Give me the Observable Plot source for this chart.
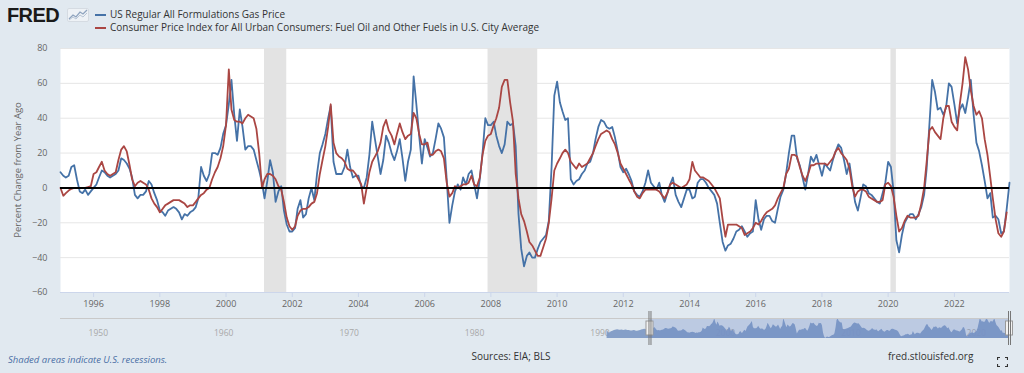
<!DOCTYPE html>
<html><head><meta charset="utf-8">
<script src="https://cdn.jsdelivr.net/npm/d3@7"></script>
<script src="https://cdn.jsdelivr.net/npm/@observablehq/plot@0.6"></script>
<style>
html,body{margin:0;padding:0;background:#e1e9f0;width:1024px;height:373px;overflow:hidden;font-family:"Open Sans",sans-serif;}
#wrap{position:relative;width:1024px;height:373px;}
.abs{position:absolute;white-space:nowrap;}
#logo{left:7px;top:5px;font-family:"Liberation Sans",Arial,sans-serif;font-weight:700;font-size:20px;line-height:20px;color:#1a1a1a;letter-spacing:-0.6px;}
#legend{left:95px;top:8px;font-size:10px;color:#333;line-height:13px;}
#legend .row{display:flex;align-items:center;height:13px;}
#legend .sw{display:inline-block;width:11px;height:2px;margin-right:4px;}
#ylabel{left:-82px;top:163px;width:200px;text-align:center;font-size:9.5px;line-height:14px;color:#666;transform:rotate(-90deg);transform-origin:100px 7px;}
#main{left:0;top:40px;}
#nav{left:0;top:316px;}
#shaded{left:8px;top:353px;font-size:9.5px;line-height:14px;font-style:italic;color:#4a6fa5;}
#sources{left:0;width:1022px;text-align:center;top:349px;font-size:10px;line-height:14px;color:#333;}
#site{left:888px;top:349px;font-size:10px;line-height:14px;color:#333;}
#fs{left:997px;top:357px;}
</style></head><body><div id="wrap">
<div id="logo" class="abs">FRED</div>
<svg class="abs" style="left:67px;top:8px" width="22" height="14" viewBox="0 0 22 14">
  <rect x="0.5" y="0.5" width="21" height="13" rx="1.5" fill="#eef2f6" stroke="#d5dbe2"/>
  <path d="M2 11 L6 7 L9 9 L13 4 L16 6 L20 2" fill="none" stroke="#8fa4bf" stroke-width="1.3"/>
  <path d="M2 12 L6 9 L9 11 L13 7 L16 9 L20 5" fill="none" stroke="#b9c6d6" stroke-width="1"/>
</svg>
<div id="legend" class="abs">
  <div class="row"><span class="sw" style="background:#4572A7"></span><span id="lg1"></span></div>
  <div class="row"><span class="sw" style="background:#AA4643"></span><span id="lg2"></span></div>
</div>
<div id="ylabel" class="abs"></div>
<div id="main" class="abs"></div>
<div id="nav" class="abs"></div>
<div id="shaded" class="abs"></div>
<div id="sources" class="abs"></div>
<div id="site" class="abs"></div>
<svg id="fs" class="abs" width="11" height="10" viewBox="0 0 11 10">
  <path d="M0.5 3 V0.5 H3 M8 0.5 H10.5 V3 M10.5 7 V9.5 H8 M3 9.5 H0.5 V7" fill="none" stroke="#333" stroke-width="1.2"/>
</svg>
</div>
<script>
// ---------- text ----------
const seriesNames = ["US Regular All Formulations Gas Price",
  "Consumer Price Index for All Urban Consumers: Fuel Oil and Other Fuels in U.S. City Average"];
const yAxisTitle = "Percent Change from Year Ago";
const noteText = "Shaded areas indicate U.S. recessions.";
const sourceText = "Sources: EIA; BLS";
const siteText = "fred.stlouisfed.org";

// ---------- data (monthly, percent change from year ago) ----------
const firstMonth = "1995-01-01";
const gasYoY = [
  9, 7, 6, 7, 12, 13, 5, -2, -3, -1, -4, -2,            // 1995
  0, 2, 6, 10, 9, 7, 6, 7, 8, 10, 17, 16,               // 1996
  14, 11, 6, -4, -6, -4, -4, -2, 4, 2, -3, -7,          // 1997
  -13, -14, -16, -13, -12, -11, -12, -14, -18, -15, -16, -14, // 1998
  -13, -11, -6, 12, 7, 4, 8, 20, 20, 19, 23, 31,        // 1999
  36, 48, 62, 42, 27, 45, 35, 22, 24, 24, 22, 16,       // 2000
  10, 3, -6, 4, 16, 9, -8, -2, 1, -13, -21, -25,        // 2001
  -25, -23, -12, -7, -17, -15, -6, 0, -7, 8, 20, 25,    // 2002
  31, 40, 47, 15, 8, 8, 8, 12, 22, 12, 6, 7,            // 2003
  7, 1, 0, 6, 19, 38, 28, 18, 8, 16, 30, 26,            // 2004
  20, 16, 21, 28, 17, 4, 15, 22, 64, 48, 30, 14,        // 2005
  28, 23, 18, 20, 28, 37, 34, 29, 5, -20, -10, -2,      // 2006
  2, -1, 6, 2, 8, 10, 2, -6, 5, 20, 40, 36,             // 2007
  36, 38, 30, 24, 20, 25, 38, 36, 37, 24, -15, -35,     // 2008
  -45, -39, -37, -40, -40, -35, -31, -29, -27, -19, 12, 53, // 2009
  61, 49, 44, 39, 40, 5, 2, 4, 5, 8, 10, 14,            // 2010
  15, 20, 28, 35, 39, 38, 35, 34, 35, 29, 21, 12,       // 2011
  9, 11, 8, 4, -2, -4, -5, -2, 3, 10, 3, 1,             // 2012
  -1, 3, -4, -8, -3, 2, 6, -4, -8, -11, -6, -1,         // 2013
  -1, -6, -5, 3, 5, 5, 3, 0, -2, -4, -9, -20,           // 2014
  -31, -36, -33, -32, -29, -25, -24, -22, -25, -28, -26, -25, // 2015
  -7, -18, -24, -18, -16, -16, -19, -20, -12, -5, -1, 8, // 2016
  20, 30, 30, 17, 13, 6, -1, 8, 18, 15, 19, 13,         // 2017
  7, 14, 12, 10, 16, 21, 25, 23, 16, 8, 14, 3,          // 2018
  -8, -13, -6, 2, 1, -3, -4, -6, -8, -9, -3, 3,         // 2019
  15, 12, -2, -30, -37, -27, -20, -17, -15, -15, -18, -15, // 2020
  -11, -4, 11, 37, 62, 55, 45, 46, 42, 46, 60, 58,      // 2021
  48, 37, 45, 48, 43, 52, 62, 42, 26, 21, 13, 4,        // 2022
  -6, -3, -17, -16, -18, -26, -25, -12, 3               // 2023
];
const fuelOilYoY = [
  0, -4.5, -3, -1.5, -0.5, 0, 0, 0, 0, 0, 0.5, 1,       // 1995
  8, 9, 12, 15, 10, 8, 7, 8, 9, 16, 22, 24,             // 1996
  21, 13, 5, 1, 3, 4, 3, 2, -1, -6, -9, -11,            // 1997
  -14, -12, -10, -9, -8, -7, -7, -7, -8, -9, -11, -10,  // 1998
  -10, -8, -6, -4, -3, -1, 0, 5, 9, 12, 17, 24,         // 1999
  36, 68, 45, 39, 38, 38, 37, 40, 42, 41, 40, 34,       // 2000
  20, 0, 5, 8, 8, 7, 5, 1, -1, -8, -17, -22,            // 2001
  -24, -22, -16, -13, -12, -12, -11, -9, -8, -3, 8, 16, // 2002
  24, 35, 48, 26, 20, 18, 17, 15, 11, 10, 10, 8,        // 2003
  5, 2, -9, 0, 9, 15, 18, 21, 26, 35, 39, 33,           // 2004
  30, 25, 31, 37, 32, 28, 30, 31, 43, 40, 31, 25,       // 2005
  25, 26, 19, 19, 21, 22, 21, 17, 3, -5, -3, 1,         // 2006
  0, 1, 2, 2, 3, 7, 2, 1, 6, 19, 27, 30,                // 2007
  31, 36, 40, 46, 58, 62, 62, 49, 38, 8, -6, -15,       // 2008
  -19, -25, -31, -33, -36, -39, -39, -34, -29, -20, -6, 10, // 2009
  14, 17, 20, 22, 20, 15, 13, 11, 14, 12, 13, 14,       // 2010
  17, 20, 24, 28, 31, 32, 33, 32, 28, 25, 20, 14,       // 2011
  11, 8, 5, 2, -2, -5, -6, -3, -1, -1, -1, -1,          // 2012
  -1, -2, -4, -6, -3, 2, 3, 2, 1, 0, 1, 2,              // 2013
  5, 15, 10, 8, 6, 6, 5, 4, 2, 0, -3, -6,               // 2014
  -18, -28, -21, -21, -21, -21, -22, -23, -27, -26, -25, -23, // 2015
  -20, -21, -19, -16, -14, -13, -12, -10, -6, -3, 0, 8, // 2016
  11, 19, 19, 18, 12, 7, 4, 8, 13, 13, 14, 14,          // 2017
  14, 14, 13, 15, 17, 21, 23, 20, 18, 16, 11, 1,        // 2018
  -5, -2, -1, -1, -2, -5, -6, -7, -8, -8, -7, 2,        // 2019
  3, 1, -5, -16, -25, -23, -19, -16, -17, -17, -17, -16, // 2020
  -9, 0, 15, 33, 35, 32, 30, 28, 40, 47, 47, 38,        // 2021
  35, 33, 48, 60, 75, 68, 56, 47, 42, 44, 40, 28,       // 2022
  19, 6, -6, -18, -26, -28, -25, -14                    // 2023
];
// navigator: gas price history before the visible window
const navEarlyFirstMonth = "1991-08-01";
const navGasEarly = [
  2, -10, -15, -14, -8,                                 // 1991
  -7, -4, -2, 0, 1, 3, 1, 0, 0, 1, 0, -1,               // 1992
  0, 1, 0, -1, -2, -3, -4, -4, -3, -2, -3, -6,          // 1993
  -6, -4, -3, -1, 1, 3, 4, 6, 4, 1, 3, 6                // 1994
];
const recessionStarts = ["2001-03-01", "2007-12-01", "2020-02-01"];
const recessionEnds   = ["2001-11-01", "2009-06-01", "2020-04-01"];
const yTickValues = [-60, -40, -20, 0, 20, 40, 60, 80];
const xTickYears = [1996, 1998, 2000, 2002, 2004, 2006, 2008, 2010, 2012, 2014, 2016, 2018, 2020, 2022];
const navTickYears = [1950, 1960, 1970, 1980, 1990, 2000, 2010, 2020];
const viewEnd = "2023-09-01";
const navStart = "1948-01-01";

// ---------- build ----------
const BLUE = "#4572A7", RED = "#AA4643";
const start = new Date(firstMonth);
const monthAt = (s, i) => d3.utcMonth.offset(new Date(s), i);
const gasRows = gasYoY.map((v, i) => ({date: monthAt(firstMonth, i), value: v}));
const fuelRows = fuelOilYoY.map((v, i) => ({date: monthAt(firstMonth, i), value: v}));
const recessions = recessionStarts.map((s, i) => ({start: new Date(s), end: new Date(recessionEnds[i])}));
const yDomain = [d3.min(yTickValues), d3.max(yTickValues)];
const xDomain = [start, new Date(viewEnd)];
const xTicks = xTickYears.map(y => new Date(Date.UTC(y, 0, 1)));

document.getElementById("lg1").textContent = seriesNames[0];
document.getElementById("lg2").textContent = seriesNames[1];
document.getElementById("ylabel").textContent = yAxisTitle;
document.getElementById("shaded").textContent = noteText;
document.getElementById("sources").textContent = sourceText;
document.getElementById("site").textContent = siteText;

const main = Plot.plot({
  width: 1024, height: 275,
  marginTop: 8, marginBottom: 23, marginLeft: 60, marginRight: 15,
  style: {background: "transparent", fontFamily: "'Open Sans', sans-serif", fontSize: "9px", color: "#666", overflow: "visible"},
  x: {type: "utc", domain: xDomain, axis: null},
  y: {domain: yDomain, axis: null},
  marks: [
    Plot.frame({fill: "white", stroke: "none"}),
    Plot.ruleY(yTickValues, {stroke: "#e6e6e6", strokeWidth: 1}),
    Plot.rect(recessions, {x1: "start", x2: "end", y1: yDomain[0], y2: yDomain[1], fill: "#e3e3e3"}),
    Plot.ruleY([yDomain[0]], {stroke: "#ccd6eb"}),
    Plot.axisX({ticks: xTicks, tickFormat: d3.utcFormat("%Y"), tickSize: 5, tickPadding: 3, stroke: "#ccd6eb", fill: "#666", label: null}),
    Plot.axisY({ticks: yTickValues, tickSize: 0, tickPadding: 13, fill: "#666", label: null}),
    Plot.lineY(gasRows, {x: "date", y: "value", stroke: BLUE, strokeWidth: 1.8}),
    Plot.lineY(fuelRows, {x: "date", y: "value", stroke: RED, strokeWidth: 1.8}),
    Plot.ruleY([0], {stroke: "#000", strokeWidth: 2})
  ]
});
document.getElementById("main").appendChild(main);

const navRows = navGasEarly.map((v, i) => ({date: monthAt(navEarlyFirstMonth, i), value: v})).concat(gasRows);
const navY = [d3.min(navRows, d => d.value), d3.max(navRows, d => d.value)];
const navTicks = navTickYears.map(y => new Date(Date.UTC(y, 0, 1)));
const selection = [{start: start, end: new Date(viewEnd)}];
const handles = [start, new Date(viewEnd)];

const nav = Plot.plot({
  width: 1024, height: 24,
  marginTop: 2, marginBottom: 2, marginLeft: 60, marginRight: 15,
  style: {background: "transparent", fontFamily: "'Open Sans', sans-serif", overflow: "visible"},
  x: {type: "utc", domain: [new Date(navStart), new Date(viewEnd)], axis: null},
  y: {domain: navY, axis: null},
  marks: [
    Plot.text(navTicks, {x: d => d, text: d => String(d.getUTCFullYear()), frameAnchor: "bottom", textAnchor: "start", lineAnchor: "bottom", dx: 3, dy: -3, fill: "#a8a8a8", fontSize: 8.5}),
    Plot.areaY(navRows, {x: "date", y1: navY[0], y2: "value", fill: "#7d98c4", fillOpacity: 0.92}),
    Plot.rect(selection, {x1: "start", x2: "end", y1: navY[0], y2: navY[1], fill: "rgb(102,133,194)", fillOpacity: 0.3}),
    Plot.ruleY([navY[1]], {stroke: "#c9c9c9"}),
    Plot.rect(handles, {x1: d => d, x2: d => d, y1: navY[0], y2: navY[1], insetLeft: -3.5, insetRight: -3.5, insetTop: 3, insetBottom: 3, fill: "#f2f2f2", stroke: "#999", strokeWidth: 1}),
    Plot.ruleX(handles, {y1: navY[0], y2: navY[1], insetTop: 7, insetBottom: 7, stroke: "#777", dx: -1}),
    Plot.ruleX(handles, {y1: navY[0], y2: navY[1], insetTop: 7, insetBottom: 7, stroke: "#777", dx: 1})
  ]
});
document.getElementById("nav").appendChild(nav);
</script>
</body></html>
